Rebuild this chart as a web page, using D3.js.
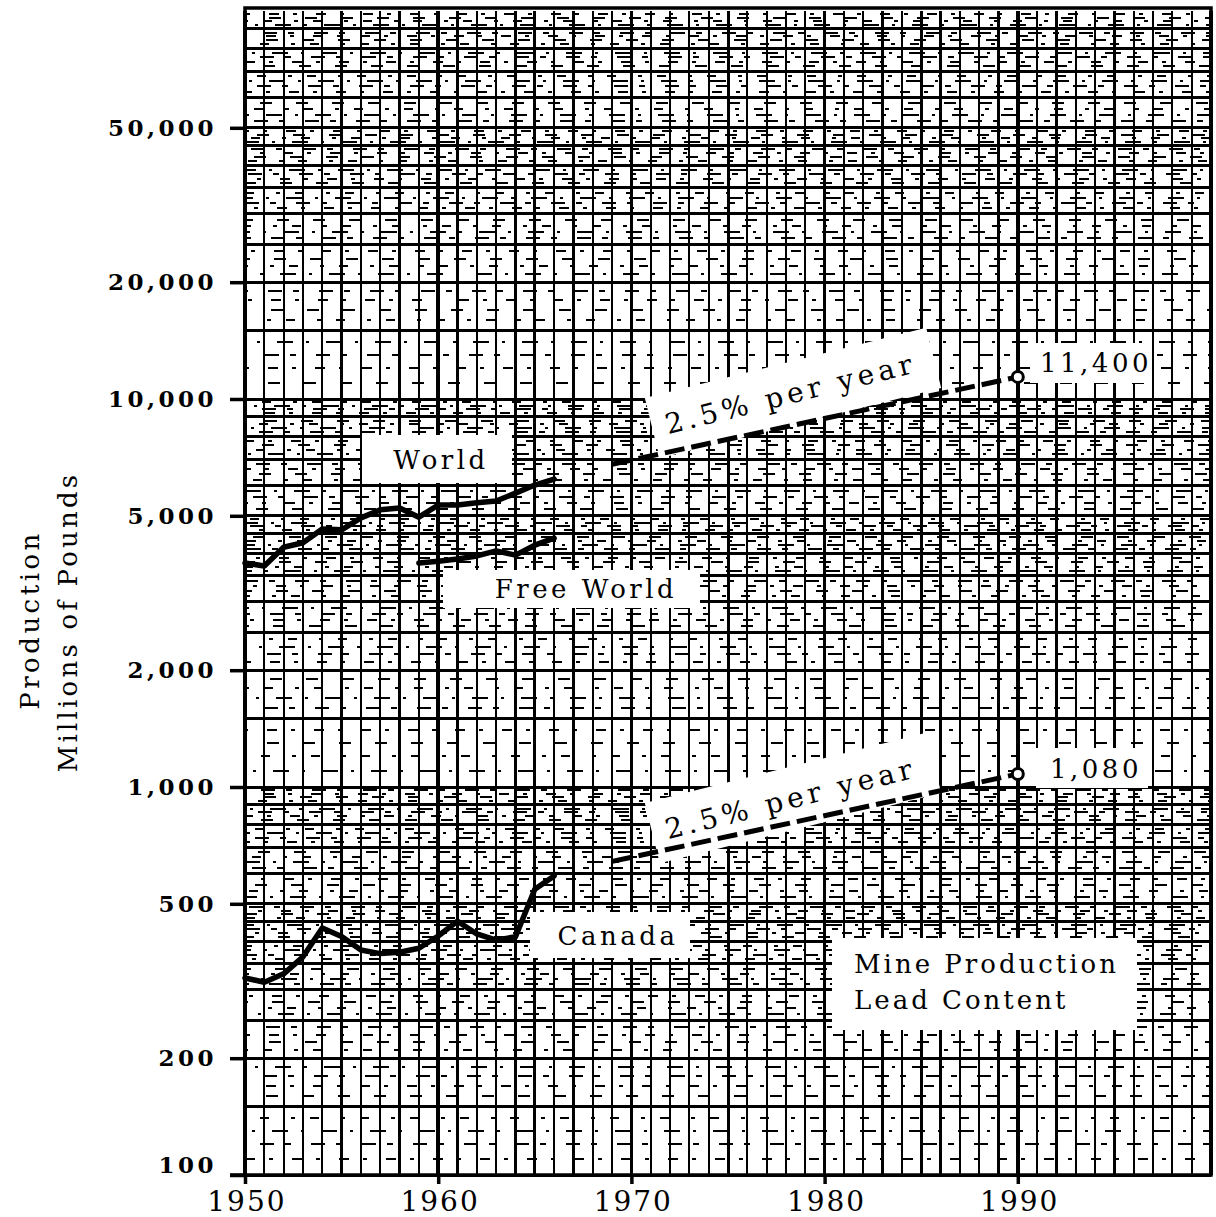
<!DOCTYPE html>
<html><head><meta charset="utf-8">
<script src="https://cdn.jsdelivr.net/npm/d3@7"></script>
<style>
body{margin:0;background:#fff}
svg{display:block}
text{font-family:"DejaVu Serif","Liberation Serif",serif;fill:#000}
</style>
</head><body>
<svg id="c" width="1216" height="1217"></svg>
<script>
// ---- data ----
const years = [1950,1951,1952,1953,1954,1955,1956,1957,1958,1959,1960,1961,1962,1963,1964,1965,1966];
const world = [3780,3710,4150,4260,4620,4600,4940,5180,5240,4960,5330,5330,5400,5460,5720,6000,6220];
const canada = [322,314,330,365,433,412,380,372,375,384,413,451,418,403,411,545,590];
const freeYears = [1959,1960,1961,1962,1963,1964,1965,1966];
const freeWorld = [3780,3820,3870,3940,4060,3960,4200,4380];
const projYears = [1969,1990];
const worldProj = [6790,11400];
const canadaProj = [643,1080];
const yTickValues = [100,200,500,1000,2000,5000,10000,20000,50000];
const xTickValues = [1950,1960,1970,1980,1990];
const seriesLabels = ["World","Free World","Canada"];
const growthLabel = "2.5% per year";
const endLabels = ["11,400","1,080"];
const noteLines = ["Mine Production","Lead Content"];
const yTitle = ["Production","Millions of Pounds"];

// ---- scales ----
const svg = d3.select("#c");
const x = d3.scaleLinear().domain([1950,2000]).range([245,1211]);
const y = d3.scaleLog().domain([100,100000]).range([1175,11]);
const X0 = x(1950), X1 = x(2000), Y0 = y(100), Y1 = y(100000);

// ---- grid (semi-log paper) ----
const grid = svg.append("g").attr("shape-rendering", "crispEdges");
const majors = [], minors = [];
[100,1000,10000].forEach(d => {
  for (let k = 10; k < 100; k++) {
    const v = d * k / 10;
    const isMajor = (k < 50 && k % 5 === 0) || (k >= 50 && k % 10 === 0);
    if (isMajor) majors.push(v);
    else if (k < 50 || k % 2 === 0) minors.push(v);
  }
});
const dashes = ["10,14,4,19", "6,20,14,11", "16,13,3,17", "4,15,9,22", "12,24"];
grid.selectAll("line.minor").data(minors).join("line")
  .attr("x1", X0).attr("x2", X1).attr("y1", d => Math.round(y(d))).attr("y2", d => Math.round(y(d)))
  .attr("stroke", "#000").attr("stroke-width", 1.2)
  .attr("stroke-dasharray", (d,i) => dashes[i % 5])
  .attr("stroke-dashoffset", (d,i) => (i * 11) % 29);
grid.selectAll("line.major").data(majors).join("line")
  .attr("x1", X0).attr("x2", X1).attr("y1", d => y(d)).attr("y2", d => y(d))
  .attr("stroke", "#000").attr("stroke-width", 3);
const yrs = d3.range(1950, 2001);
grid.selectAll("line.v").data(yrs).join("line")
  .attr("x1", d => x(d)).attr("x2", d => x(d)).attr("y1", Y1).attr("y2", Y0)
  .attr("stroke", "#000")
  .attr("stroke-width", d => d % 10 === 0 ? 3.5 : (d % 5 === 0 ? 3 : 2.2));
// frame
svg.append("rect").attr("x", X0).attr("y", Y1 - 3).attr("width", X1 - X0).attr("height", Y0 - Y1 + 3)
  .attr("fill", "none").attr("stroke", "#000").attr("stroke-width", 3.5);

// ---- white label patches ----
const white = svg.append("g").attr("fill", "#fff");
white.append("rect").attr("x", 362).attr("y", 435).attr("width", 150).attr("height", 48);
white.append("rect").attr("x", 443).attr("y", 570).attr("width", 257).attr("height", 38);
white.append("rect").attr("x", 530).attr("y", 912).attr("width", 160).attr("height", 46);
white.append("rect").attr("x", 832).attr("y", 938).attr("width", 305).attr("height", 92);
white.append("rect").attr("x", 1030).attr("y", 343).attr("width", 122).attr("height", 40);
white.append("rect").attr("x", 1036).attr("y", 748).attr("width", 112).attr("height", 40);
white.append("rect").attr("x", 648).attr("y", 362).attr("width", 290).attr("height", 62)
  .attr("transform", "rotate(-14 793 393)");
white.append("rect").attr("x", 648).attr("y", 767).attr("width", 290).attr("height", 62)
  .attr("transform", "rotate(-14 793 798)");

// ---- data lines ----
const line = d3.line().x(d => x(d[0])).y(d => y(d[1]));
const plot = svg.append("g").attr("fill", "none").attr("stroke", "#000")
  .attr("stroke-linejoin", "round").attr("stroke-linecap", "round");
plot.append("path").datum(years.map((yr,i) => [yr, world[i]])).attr("d", line).attr("stroke-width", 5.5);
plot.append("path").datum(freeYears.map((yr,i) => [yr, freeWorld[i]])).attr("d", line).attr("stroke-width", 5.5);
plot.append("path").datum(years.map((yr,i) => [yr, canada[i]])).attr("d", line).attr("stroke-width", 5.5);
[worldProj, canadaProj].forEach(p => {
  plot.append("path").datum(projYears.map((yr,i) => [yr, p[i]])).attr("d", line)
    .attr("stroke-width", 5).attr("stroke-linecap", "butt").attr("stroke-dasharray", "20,7");
  plot.append("circle").attr("cx", x(projYears[1])).attr("cy", y(p[1])).attr("r", 5.5)
    .attr("fill", "#fff").attr("stroke-width", 3);
});

// ---- axes ----
const yAxis = svg.append("g").attr("transform", `translate(${X0},0)`)
  .call(d3.axisLeft(y).tickValues(yTickValues).tickSize(15).tickPadding(13).tickFormat(d3.format(",")));
yAxis.select(".domain").remove();
yAxis.selectAll(".tick line").attr("stroke", "#000").attr("stroke-width", 3.5);
yAxis.selectAll(".tick text").attr("font-size", 23).attr("letter-spacing", 3.5).attr("font-weight", "bold")
  .attr("font-family", "DejaVu Serif").attr("fill", "#000")
  .attr("dy", d => d === 100 ? "-0.1em" : "0.32em");

const xAxis = svg.append("g").attr("transform", `translate(0,${Y0})`)
  .call(d3.axisBottom(x).tickValues(xTickValues).tickSize(9).tickPadding(7).tickFormat(d3.format("d")));
xAxis.select(".domain").remove();
xAxis.selectAll(".tick line").attr("stroke", "#000").attr("stroke-width", 3.5);
xAxis.selectAll(".tick text").attr("font-size", 28).attr("letter-spacing", 2)
  .attr("font-family", "DejaVu Serif").attr("fill", "#000").attr("dx", "0.05em");
svg.append("line").attr("x1", 230).attr("x2", X0).attr("y1", Y0).attr("y2", Y0)
  .attr("stroke", "#000").attr("stroke-width", 3.5);

// ---- y title ----
svg.append("text").attr("transform", "translate(39,620) rotate(-90)").attr("text-anchor", "middle")
  .attr("font-size", 26).attr("letter-spacing", 3.5).text(yTitle[0]);
svg.append("text").attr("transform", "translate(77,622) rotate(-90)").attr("text-anchor", "middle")
  .attr("font-size", 26).attr("letter-spacing", 3.2).text(yTitle[1]);

// ---- labels ----
const lab = svg.append("g").attr("font-size", 26).attr("letter-spacing", 3.5);
lab.append("text").attr("x", 441).attr("y", 469).attr("text-anchor", "middle").text(seriesLabels[0]);
lab.append("text").attr("x", 586).attr("y", 598).attr("text-anchor", "middle").text(seriesLabels[1]);
lab.append("text").attr("x", 618).attr("y", 945).attr("text-anchor", "middle").text(seriesLabels[2]);
lab.append("text").attr("x", 854).attr("y", 973).attr("letter-spacing", 3).text(noteLines[0]);
lab.append("text").attr("x", 854).attr("y", 1009).attr("letter-spacing", 3).text(noteLines[1]);
lab.append("text").attr("x", 1040).attr("y", 372).text(endLabels[0]);
lab.append("text").attr("x", 1050).attr("y", 778).text(endLabels[1]);
lab.append("text").attr("transform", "translate(793,403) rotate(-14)").attr("text-anchor", "middle")
  .attr("font-size", 28).attr("letter-spacing", 4.5).text(growthLabel);
lab.append("text").attr("transform", "translate(793,808) rotate(-14)").attr("text-anchor", "middle")
  .attr("font-size", 28).attr("letter-spacing", 4.5).text(growthLabel);
</script>
</body></html>
